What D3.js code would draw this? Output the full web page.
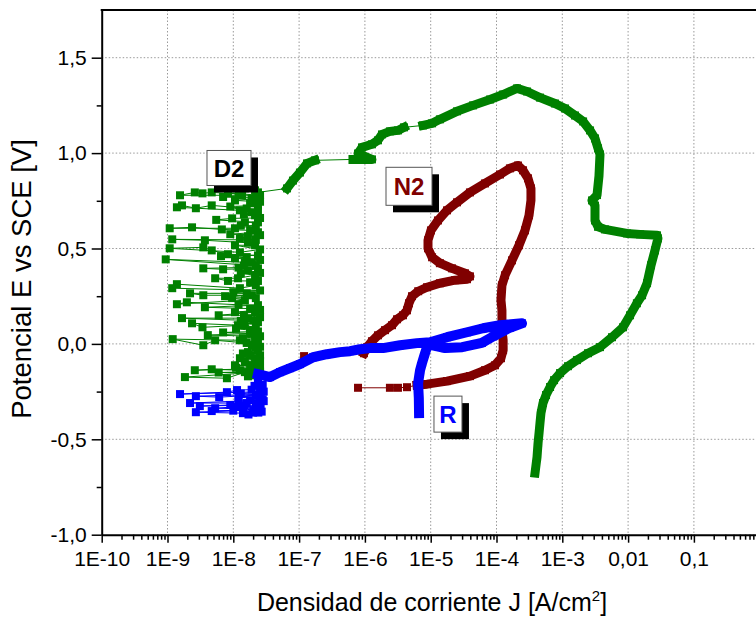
<!DOCTYPE html>
<html><head><meta charset="utf-8">
<script src="https://cdn.jsdelivr.net/npm/d3@7"></script>
<style>body{margin:0;background:#fff}svg{display:block}text{font-family:"Liberation Sans",Arial,sans-serif}</style>
</head><body>
<svg id="chart" width="756" height="617"></svg>
<script>
// ---- axis ticks ----
const xTickValues = [1e-10,1e-9,1e-8,1e-7,1e-6,1e-5,1e-4,1e-3,1e-2,1e-1];
const xTickLabels = ["1E-10","1E-9","1E-8","1E-7","1E-6","1E-5","1E-4","1E-3","0,01","0,1"];
const yTickValues = [-1,-0.5,0,0.5,1,1.5];
const yTickLabels = ["-1,0","-0,5","0,0","0,5","1,0","1,5"];
const yMinorValues = [-0.75,-0.25,0.25,0.75,1.25];

// ---- D2 (green): noisy low-current cluster, [J (A/cm2), E (V)] ----
const d2Scatter = [[1.67e-8,-0.170],[2.0e-8,-0.165],[2.2e-8,-0.160],[1.5e-8,-0.148],[8.0e-9,-0.180],[1.84e-9,-0.174],[1.92e-8,-0.150],[6.0e-9,-0.150],[2.55e-8,-0.145],[1.26e-8,-0.138],[4.7e-9,-0.133],[2.6e-9,-0.138],[2.55e-8,-0.130],[1.1e-8,-0.125],[2.37e-8,-0.115],[1.06e-8,-0.112],[1.8e-8,-0.112],[2.2e-8,-0.100],[1.5e-8,-0.090],[2.55e-8,-0.090],[2.37e-8,-0.085],[1.26e-8,-0.075],[2.14e-8,-0.075],[1.8e-8,-0.060],[2.55e-8,-0.060],[1.4e-8,-0.050],[1.67e-8,-0.043],[2.37e-8,-0.033],[2.2e-8,-0.020],[2.55e-8,-0.015],[1.92e-8,-0.007],[1.6e-8,0.005],[5.3e-9,0.019],[3.5e-9,-0.007],[1.2e-9,0.025],[1.26e-8,0.019],[2.37e-8,0.010],[2.14e-8,0.030],[1.4e-8,0.030],[2.55e-8,0.040],[4.1e-9,0.046],[1.8e-8,0.055],[7.0e-9,0.060],[2.37e-8,0.065],[1.8e-8,0.072],[1.1e-8,0.080],[2.2e-8,0.085],[1.5e-8,0.098],[3.4e-9,0.087],[2.36e-9,0.108],[1.18e-8,0.098],[2.37e-8,0.114],[1.3e-8,0.120],[2.0e-8,0.122],[1.66e-9,0.135],[1.67e-8,0.135],[2.55e-8,0.140],[1.45e-8,0.150],[6.0e-9,0.150],[2.14e-8,0.166],[1.06e-8,0.166],[2.55e-8,0.178],[1.8e-8,0.185],[3.7e-9,0.192],[2.37e-8,0.203],[1.2e-8,0.205],[1.97e-9,0.218],[1.39e-9,0.208],[1.5e-8,0.229],[9.6e-9,0.240],[2.2e-8,0.240],[7.5e-9,0.250],[1.92e-8,0.255],[3.5e-9,0.255],[2.2e-9,0.265],[1.6e-8,0.265],[1.0e-8,0.271],[2.55e-8,0.280],[1.18e-9,0.292],[1.39e-9,0.313],[1.26e-8,0.292],[2.2e-8,0.307],[1.8e-8,0.323],[2.37e-8,0.330],[8.3e-9,0.330],[5.3e-9,0.344],[1.18e-8,0.344],[2.14e-8,0.360],[1.3e-8,0.370],[2.55e-8,0.372],[1.67e-8,0.386],[2.37e-8,0.396],[7.0e-9,0.391],[3.5e-9,0.396],[1.2e-8,0.400],[1.45e-8,0.410],[2.2e-8,0.410],[9.4e-10,0.443],[1.5e-8,0.428],[1.92e-8,0.428],[2.55e-8,0.440],[1.06e-8,0.449],[1.6e-8,0.455],[6.5e-9,0.460],[2.37e-8,0.464],[8.3e-9,0.470],[4.7e-9,0.490],[3.5e-9,0.506],[1.08e-9,0.501],[1.26e-8,0.480],[2.55e-8,0.495],[1.06e-8,0.517],[2.14e-8,0.517],[1.67e-8,0.530],[3.7e-9,0.543],[1.18e-9,0.548],[2.2e-8,0.545],[1.26e-8,0.553],[1.67e-8,0.564],[2.55e-8,0.570],[9.0e-9,0.575],[2.37e-8,0.585],[1.8e-8,0.595],[6.7e-9,0.600],[2.36e-9,0.611],[1.08e-9,0.606],[1.06e-8,0.606],[2.2e-8,0.620],[1.3e-8,0.620],[1.5e-8,0.637],[2.37e-8,0.637],[5.5e-9,0.650],[9.6e-9,0.658],[2.55e-8,0.660],[2.14e-8,0.674],[1.45e-8,0.680],[1.92e-8,0.690],[2.37e-8,0.700],[1.6e-8,0.710],[4.7e-9,0.726],[2.7e-9,0.711],[1.66e-9,0.726],[1.39e-9,0.716],[1.26e-8,0.700],[9.0e-9,0.720],[2.37e-8,0.726],[1.8e-8,0.737],[2.55e-8,0.745],[1.06e-8,0.752],[1.9e-8,0.760],[2.2e-8,0.765],[7.0e-9,0.770],[2.55e-8,0.780],[4.7e-9,0.794],[3.4e-9,0.789],[2.6e-9,0.794],[1.55e-9,0.779],[1.36e-8,0.779],[1.2e-8,0.790],[8.3e-9,0.790],[1.5e-8,0.815],[2.14e-8,0.805],[2.37e-8,0.794]];
// ---- D2 (green): dense scan branches ----
const d2Curve1 = [[6.55e-8,0.815],[8.07e-8,0.856],[1.03e-7,0.898],[1.32e-7,0.946],[1.74e-7,0.962]];
const d2Curve2 = [[6.59e-7,0.967],[1.28e-6,0.967],[7.86e-7,0.998],[9.04e-7,1.030],[1.28e-6,1.046],[1.58e-6,1.067],[1.82e-6,1.098],[2.4e-6,1.114],[3.18e-6,1.119],[3.93e-6,1.135]];
const d2Curve3 = [[7.64e-6,1.145],[1.05e-5,1.156],[1.38e-5,1.177],[2.51e-5,1.219],[4.4e-5,1.250],[7.98e-5,1.281],[1.26e-4,1.307],[2.05e-4,1.339],[2.91e-4,1.323],[4.58e-4,1.291],[7.74e-4,1.260],[1.10e-3,1.234],[1.56e-3,1.197],[2.07e-3,1.166],[2.64e-3,1.119],[3.14e-3,1.077],[3.49e-3,1.025],[3.74e-3,0.993],[3.61e-3,0.880],[3.37e-3,0.780],[2.83e-3,0.752],[3.14e-3,0.725],[3.14e-3,0.647],[3.49e-3,0.614],[4.46e-3,0.600],[9.6e-3,0.579],[1.52e-2,0.574],[2.75e-2,0.569],[2.84e-2,0.553],[2.56e-2,0.490],[2.23e-2,0.412],[1.94e-2,0.318],[1.63e-2,0.255],[1.36e-2,0.213],[1.07e-2,0.150],[8.36e-3,0.087],[5.69e-3,0.035],[3.74e-3,-0.017],[2.46e-3,-0.049],[1.67e-3,-0.085],[1.22e-3,-0.117],[9.25e-4,-0.153],[7.5e-4,-0.190],[6.52e-4,-0.226],[5.66e-4,-0.268],[5.09e-4,-0.310],[4.74e-4,-0.363],[4.58e-4,-0.415],[4.43e-4,-0.468],[4.28e-4,-0.520],[4.13e-4,-0.593],[3.85e-4,-0.677]];

// ---- N2 (dark red) ----
const n2Sparse = [[7.86e-7,-0.230],[2.4e-6,-0.230],[3.18e-6,-0.230],[4.36e-6,-0.227]];
const n2Curve = [[6.19e-6,-0.216],[8.79e-6,-0.211],[1.77e-5,-0.195],[3.95e-5,-0.169],[6.68e-5,-0.138],[9.48e-5,-0.112],[1.17e-4,-0.075],[1.26e-4,-0.033],[1.26e-4,0.019],[1.21e-4,0.072],[1.21e-4,0.176],[1.17e-4,0.229],[1.21e-4,0.307],[1.35e-4,0.360],[1.72e-4,0.438],[2.2e-4,0.517],[2.71e-4,0.595],[3.12e-4,0.674],[3.34e-4,0.752],[3.34e-4,0.815],[3.01e-4,0.868],[2.53e-4,0.910],[2.12e-4,0.935],[1.6e-4,0.920],[1.13e-4,0.888],[6.68e-5,0.841],[3.95e-5,0.794],[2.51e-5,0.742],[1.77e-5,0.700],[1.29e-5,0.647],[1.01e-5,0.595],[9.1e-6,0.543],[9.1e-6,0.501],[1.05e-5,0.454],[1.38e-5,0.423],[2.11e-5,0.396],[3.32e-5,0.370],[3.95e-5,0.354],[3.56e-5,0.339],[2.34e-5,0.334],[1.38e-5,0.318],[8.79e-6,0.297],[6.46e-6,0.276],[5.2e-6,0.250],[4.68e-6,0.213],[4.36e-6,0.176],[3.79e-6,0.150],[3.08e-6,0.129],[2.58e-6,0.098],[2.02e-6,0.072],[1.58e-6,0.045],[1.28e-6,0.014],[1.08e-6,-0.017],[9.68e-7,-0.049]];
const n2Tail = [[1.19e-7,-0.064]];

// ---- R (blue) ----
const rScatter = [[2.37e-8,-0.205],[2.8e-8,-0.215],[2.55e-8,-0.232],[2.1e-8,-0.220],[1.9e-8,-0.240],[1.14e-8,-0.242],[8.0e-9,-0.253],[1.55e-9,-0.263],[2.9e-8,-0.250],[1.3e-8,-0.260],[2.2e-8,-0.265],[2.7e-9,-0.274],[6.1e-9,-0.279],[2.37e-8,-0.268],[1.2e-8,-0.280],[2.6e-8,-0.285],[2.8e-8,-0.290],[1.8e-8,-0.295],[1.2e-8,-0.300],[2.2e-9,-0.310],[2.2e-8,-0.310],[1.6e-8,-0.310],[1.5e-8,-0.321],[3.1e-9,-0.326],[9.0e-9,-0.320],[2.3e-8,-0.325],[2.6e-8,-0.330],[1.1e-8,-0.330],[5.3e-9,-0.337],[1.4e-8,-0.340],[2.0e-8,-0.347],[4.7e-9,-0.352],[1.0e-8,-0.350],[2.7e-9,-0.358],[1.4e-8,-0.363],[2.0e-8,-0.360],[2.4e-8,-0.360],[1.7e-8,-0.370],[2.7e-8,-0.355],[2.55e-8,-0.345],[2.9e-8,-0.300],[2.55e-8,-0.270],[2.37e-8,-0.190]];
const rCurve = [[2.37e-8,-0.159],[3.61e-8,-0.174],[5.13e-8,-0.148],[7.28e-8,-0.127],[1.03e-7,-0.106],[1.63e-7,-0.070],[2.65e-7,-0.054],[4.19e-7,-0.043],[5.94e-7,-0.038],[8.42e-7,-0.028],[1.2e-6,-0.022],[1.88e-6,-0.022],[3.42e-6,-0.007],[6.19e-6,0.004],[9.77e-6,0.009],[1.77e-5,0.035],[3.56e-5,0.061],[6.24e-5,0.082],[1.13e-4,0.098],[2.44e-4,0.108],[1.6e-4,0.085],[9.0e-5,0.040],[6.0e-5,0.005],[3.0e-5,-0.017],[1.66e-5,-0.022],[9.1e-6,-0.002],[8.2e-6,-0.049],[7.38e-6,-0.101],[6.89e-6,-0.138],[6.43e-6,-0.206],[6.6e-6,-0.284],[6.65e-6,-0.363]];

// ---- labels ----
const seriesNames = ["D2","N2","R"];
const labelJ = [8.6e-9,4.68e-6,1.83e-5];
const labelE = [0.922,0.826,-0.368];

const colors = {D2:"#008000", N2:"#800000", R:"#0000ff"};

const svg = d3.select("#chart");
const L = 101.7, T = 10, B = 534.7, DEC = 65.8;
const x = d3.scaleLog().domain([1e-10,1]).range([L, L + 10*DEC]);
const y = d3.scaleLinear().domain([-1,1.75]).range([B, T]);

// grid
const grid = svg.append("g").attr("stroke","#9a9a9a").attr("stroke-width",1).attr("stroke-dasharray","1.5,2");
xTickValues.slice(1).forEach(v=>grid.append("line").attr("x1",x(v)).attr("x2",x(v)).attr("y1",T).attr("y2",B));
yTickValues.slice(1).forEach(v=>grid.append("line").attr("x1",L).attr("x2",756).attr("y1",y(v)).attr("y2",y(v)));

// series drawing
const line = d3.line().x(d=>x(d[0])).y(d=>y(d[1]));
const MS = 8;
function drawSeries(name, parts, denseParts, width){
  const c = colors[name];
  const g = svg.append("g");
  const all = parts.flat();
  g.append("path").attr("d", line(all)).attr("fill","none").attr("stroke",c).attr("stroke-width",1);
  denseParts.forEach(p=>{
    g.append("path").attr("d", line(p)).attr("fill","none").attr("stroke",c)
      .attr("stroke-width",width).attr("stroke-linejoin","round").attr("stroke-linecap","square");
  });
  g.selectAll("rect").data(all).join("rect")
    .attr("x",d=>x(d[0])-MS/2).attr("y",d=>y(d[1])-MS/2).attr("width",MS).attr("height",MS).attr("fill",c);
}
drawSeries("D2", [d2Scatter,d2Curve1,d2Curve2,d2Curve3], [d2Curve1,d2Curve2,d2Curve3], 9);
drawSeries("N2", [n2Sparse,n2Curve,n2Tail], [n2Curve], 9);
drawSeries("R", [rScatter,rCurve], [rCurve], 10);

// axes
svg.append("g").attr("transform",`translate(0,${B})`)
  .call(d3.axisBottom(x).tickValues(xTickValues).tickFormat((d,i)=>xTickLabels[i]).tickSize(8).tickSizeOuter(0).tickPadding(8));
const minors = [];
for (let e=-10;e<0;e++) for (let m=2;m<10;m++) minors.push(m*Math.pow(10,e));
svg.append("g").attr("transform",`translate(0,${B})`)
  .call(d3.axisBottom(x).tickValues(minors).tickFormat("").tickSize(5).tickSizeOuter(0))
  .select(".domain").remove();
svg.append("g").attr("transform",`translate(${L},0)`)
  .call(d3.axisLeft(y).tickValues(yTickValues).tickFormat((d,i)=>yTickLabels[i]).tickSize(10).tickSizeOuter(0).tickPadding(5));
svg.append("g").attr("transform",`translate(${L},0)`)
  .call(d3.axisLeft(y).tickValues(yMinorValues).tickFormat("").tickSize(5).tickSizeOuter(0))
  .select(".domain").remove();
svg.selectAll(".domain").attr("stroke-width",2).attr("stroke","#000");
svg.selectAll(".tick line").attr("stroke-width",1.5).attr("stroke","#000");
svg.selectAll(".tick text").attr("font-size",21).attr("fill","#000").attr("font-family","Liberation Sans, Arial, sans-serif");
// top frame
svg.append("line").attr("x1",L-1).attr("x2",756).attr("y1",T).attr("y2",T).attr("stroke","#000").attr("stroke-width",2);

// axis titles
const xt = svg.append("text").attr("x",432).attr("y",611).attr("text-anchor","middle").attr("font-size",25);
xt.append("tspan").text("Densidad de corriente J [A/cm");
xt.append("tspan").attr("font-size",15).attr("dy",-10).text("2");
xt.append("tspan").attr("dy",10).text("]");
svg.append("text").attr("transform","translate(31,279) rotate(-90)").attr("text-anchor","middle").attr("font-size",27.5)
  .text("Potencial E vs SCE [V]");

// series labels
const boxW = [44,46,28], boxH = [35,38,36];
seriesNames.forEach((n,i)=>{
  const cx = x(labelJ[i]), cy = y(labelE[i]);
  const g = svg.append("g");
  g.append("rect").attr("x",cx-boxW[i]/2+7).attr("y",cy-boxH[i]/2+7).attr("width",boxW[i]).attr("height",boxH[i]).attr("fill","#000");
  g.append("rect").attr("x",cx-boxW[i]/2).attr("y",cy-boxH[i]/2).attr("width",boxW[i]).attr("height",boxH[i]).attr("fill","#fff").attr("stroke","#555").attr("stroke-width",1);
  g.append("text").attr("x",cx).attr("y",cy).attr("dy","0.36em").attr("text-anchor","middle").attr("font-size",24).attr("font-weight","bold")
    .attr("fill", n==="D2" ? "#000" : colors[n]).text(n);
});
</script>
</body></html>
